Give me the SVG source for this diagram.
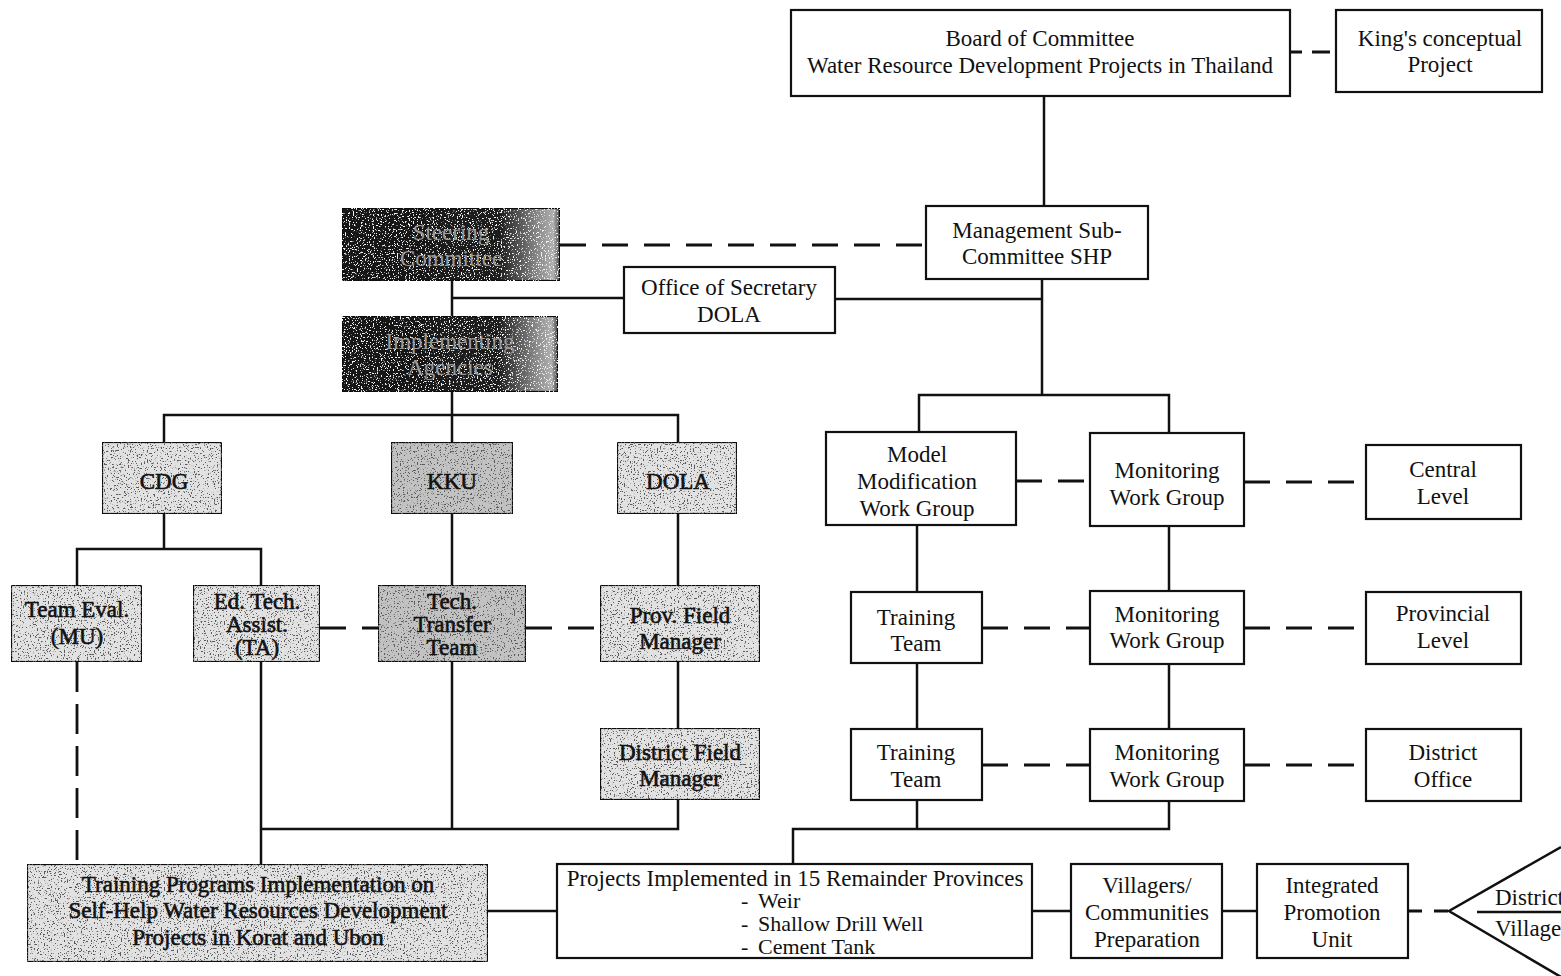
<svg xmlns="http://www.w3.org/2000/svg" width="1561" height="976" viewBox="0 0 1561 976">
  <defs>
    <style>
      text { font-family: "Liberation Serif", "Times New Roman", serif; font-size: 23px; fill: #111; text-anchor: middle; }
      .box { fill: #fff; stroke: #111; stroke-width: 2.2; }
      .grey { fill: #e2e2e2; stroke: #111; stroke-width: 2.2; }
      .greyd { fill: #c2c2c2; stroke: #111; stroke-width: 2.2; }
      .dark { fill: url(#darkfill); stroke: #111; stroke-width: 2.2; }
      .dtext { fill: #9a9a9a; }
      .heavy { stroke: #111; stroke-width: 0.6; }
      .ln { fill: none; stroke: #111; stroke-width: 2.5; }
      .dash { fill: none; stroke: #111; stroke-width: 2.8; stroke-dasharray: 26 16; }
      .left { text-anchor: start; }
      .item { font-size: 22px; }
    </style>
    <linearGradient id="darkfill" x1="0" y1="0" x2="1" y2="0">
      <stop offset="0" stop-color="#161616"/>
      <stop offset="0.72" stop-color="#1c1c1c"/>
      <stop offset="0.9" stop-color="#8a8a8a"/>
      <stop offset="0.97" stop-color="#b0b0b0"/>
      <stop offset="1" stop-color="#444"/>
    </linearGradient>
    <!-- dark speckle texture for the shaded boxes -->
    <filter id="grain" x="0" y="0" width="100%" height="100%">
      <feTurbulence type="fractalNoise" baseFrequency="0.7" numOctaves="2" seed="4" result="n"/>
      <feColorMatrix in="n" type="matrix" values="0 0 0 0 0.1  0 0 0 0 0.1  0 0 0 0 0.1  -14 0 0 0 5.6" result="specks"/>
      <feComposite in="specks" in2="SourceGraphic" operator="in" result="sp"/>
      <feMerge><feMergeNode in="SourceGraphic"/><feMergeNode in="sp"/></feMerge>
    </filter>
    <!-- light speckle texture for the black boxes -->
    <filter id="grainLight" x="0" y="0" width="100%" height="100%">
      <feTurbulence type="fractalNoise" baseFrequency="0.75" numOctaves="2" seed="9" result="n"/>
      <feColorMatrix in="n" type="matrix" values="0 0 0 0 0.9  0 0 0 0 0.9  0 0 0 0 0.9  -14 0 0 0 5.5" result="specks"/>
      <feComposite in="specks" in2="SourceGraphic" operator="in" result="sp"/>
      <feMerge><feMergeNode in="SourceGraphic"/><feMergeNode in="sp"/></feMerge>
    </filter>
  </defs>
  <rect width="1561" height="976" fill="#fff"/>

  <!-- connectors -->
  <g id="connectors">
    <path class="dash" d="M1290 52 H1336" style="stroke-dasharray: 12 10 18 10"/>
    <path class="ln" d="M1044 96 V206"/>
    <path class="dash" d="M560 245 H926"/>
    <path class="ln" d="M1042 279 V395 M835 299 H1042"/>
    <path class="ln" d="M919 432 V395 H1169 V433"/>
    <path class="ln" d="M452 281 V316 M452 298 H624"/>
    <path class="ln" d="M452 392 V415 M164 442 V415 H678 V442 M452 415 V442"/>
    <path class="ln" d="M164 514 V549 M77 585 V549 H261 V585"/>
    <path class="ln" d="M452 514 V585 M678 514 V585 M678 662 V728"/>
    <path class="dash" d="M320 628 H378 M526 628 H600"/>
    <path class="dash" d="M77 662 V864" style="stroke-dasharray: 30 12"/>
    <path class="ln" d="M261 662 V864 M452 662 V829 M678 800 V829 H261"/>
    <path class="ln" d="M488 911 H557 M1032 911 H1071 M1222 911 H1257"/>
    <path class="ln" d="M793 864 V829 H1169 V801 M917 800 V829"/>
    <path class="dash" d="M1016 481 H1090 M1244 482 H1366"/>
    <path class="ln" d="M917 525 V592 M1169 526 V591 M917 663 V729 M1169 664 V729"/>
    <path class="dash" d="M982 628 H1090 M1244 628 H1366"/>
    <path class="dash" d="M982 765 H1090 M1244 765 H1366"/>
    <path class="dash" d="M1408 911 H1449" style="stroke-dasharray: 14 12"/>
  </g>

  <!-- top level -->
  <g id="board">
    <rect class="box" x="791" y="10" width="499" height="86"/>
    <text x="1040" y="46">Board of Committee</text>
    <text x="1040" y="73">Water Resource Development Projects in Thailand</text>
  </g>
  <g id="kings-project">
    <rect class="box" x="1336" y="10" width="206" height="82"/>
    <text x="1440" y="46">King's conceptual</text>
    <text x="1440" y="72">Project</text>
  </g>
  <g id="management">
    <rect class="box" x="926" y="206" width="222" height="73"/>
    <text x="1037" y="238">Management Sub-</text>
    <text x="1037" y="264">Committee SHP</text>
  </g>
  <g id="office-secretary">
    <rect class="box" x="624" y="267" width="211" height="66"/>
    <text x="729" y="295">Office of Secretary</text>
    <text x="729" y="322">DOLA</text>
  </g>

  <!-- left branch -->
  <g id="steering">
    <rect class="dark" x="342" y="208" width="218" height="73" filter="url(#grainLight)"/>
    <text class="dtext" x="451" y="240">Steering</text>
    <text class="dtext" x="451" y="266">Committee</text>
  </g>
  <g id="implementing">
    <rect class="dark" x="342" y="316" width="216" height="76" filter="url(#grainLight)"/>
    <text class="dtext" x="450" y="349">Implementing</text>
    <text class="dtext" x="450" y="375">Agencies</text>
  </g>
  <g id="cdg">
    <rect class="grey" x="102" y="442" width="120" height="72" filter="url(#grain)"/>
    <text class="heavy" x="164" y="489">CDG</text>
  </g>
  <g id="kku">
    <rect class="greyd" x="391" y="442" width="122" height="72" filter="url(#grain)"/>
    <text class="heavy" x="452" y="489">KKU</text>
  </g>
  <g id="dola">
    <rect class="grey" x="617" y="442" width="120" height="72" filter="url(#grain)"/>
    <text class="heavy" x="678" y="489">DOLA</text>
  </g>
  <g id="team-eval">
    <rect class="grey" x="11" y="585" width="131" height="77" filter="url(#grain)"/>
    <text class="heavy" x="77" y="617">Team Eval.</text>
    <text class="heavy" x="77" y="644">(MU)</text>
  </g>
  <g id="ed-tech">
    <rect class="grey" x="193" y="585" width="127" height="77" filter="url(#grain)"/>
    <text class="heavy" x="257" y="609">Ed. Tech.</text>
    <text class="heavy" x="257" y="632">Assist.</text>
    <text class="heavy" x="257" y="655">(TA)</text>
  </g>
  <g id="tech-transfer">
    <rect class="greyd" x="378" y="585" width="148" height="77" filter="url(#grain)"/>
    <text class="heavy" x="452" y="609">Tech.</text>
    <text class="heavy" x="452" y="632">Transfer</text>
    <text class="heavy" x="452" y="655">Team</text>
  </g>
  <g id="prov-field">
    <rect class="grey" x="600" y="585" width="160" height="77" filter="url(#grain)"/>
    <text class="heavy" x="680" y="623">Prov. Field</text>
    <text class="heavy" x="680" y="649">Manager</text>
  </g>
  <g id="district-field">
    <rect class="grey" x="600" y="728" width="160" height="72" filter="url(#grain)"/>
    <text class="heavy" x="680" y="760">District Field</text>
    <text class="heavy" x="680" y="786">Manager</text>
  </g>
  <g id="training-programs">
    <rect class="grey" x="27" y="864" width="461" height="98" filter="url(#grain)"/>
    <text class="heavy" x="258" y="892">Training Programs Implementation on</text>
    <text class="heavy" x="258" y="918">Self-Help Water Resources Development</text>
    <text class="heavy" x="258" y="945">Projects in Korat and Ubon</text>
  </g>

  <!-- right branch -->
  <g id="model-modification">
    <rect class="box" x="826" y="432" width="190" height="93"/>
    <text x="917" y="462">Model</text>
    <text x="917" y="489">Modification</text>
    <text x="917" y="516">Work Group</text>
  </g>
  <g id="monitoring-central">
    <rect class="box" x="1090" y="433" width="154" height="93"/>
    <text x="1167" y="478">Monitoring</text>
    <text x="1167" y="505">Work Group</text>
  </g>
  <g id="central-level">
    <rect class="box" x="1366" y="445" width="155" height="74"/>
    <text x="1443" y="477">Central</text>
    <text x="1443" y="504">Level</text>
  </g>
  <g id="training-team-1">
    <rect class="box" x="851" y="592" width="131" height="71"/>
    <text x="916" y="625">Training</text>
    <text x="916" y="651">Team</text>
  </g>
  <g id="monitoring-provincial">
    <rect class="box" x="1090" y="591" width="154" height="73"/>
    <text x="1167" y="622">Monitoring</text>
    <text x="1167" y="648">Work Group</text>
  </g>
  <g id="provincial-level">
    <rect class="box" x="1366" y="592" width="155" height="72"/>
    <text x="1443" y="621">Provincial</text>
    <text x="1443" y="648">Level</text>
  </g>
  <g id="training-team-2">
    <rect class="box" x="851" y="729" width="131" height="71"/>
    <text x="916" y="760">Training</text>
    <text x="916" y="787">Team</text>
  </g>
  <g id="monitoring-district">
    <rect class="box" x="1090" y="729" width="154" height="72"/>
    <text x="1167" y="760">Monitoring</text>
    <text x="1167" y="787">Work Group</text>
  </g>
  <g id="district-office">
    <rect class="box" x="1366" y="729" width="155" height="72"/>
    <text x="1443" y="760">District</text>
    <text x="1443" y="787">Office</text>
  </g>

  <!-- bottom row -->
  <g id="projects">
    <rect class="box" x="557" y="864" width="475" height="94"/>
    <text x="795" y="886">Projects Implemented in 15 Remainder Provinces</text>
    <text class="left item"><tspan x="741" y="908">-</tspan><tspan x="758" y="908">Weir</tspan><tspan x="741" y="931">-</tspan><tspan x="758" y="931">Shallow Drill Well</tspan><tspan x="741" y="954">-</tspan><tspan x="758" y="954">Cement Tank</tspan></text>
  </g>
  <g id="villagers">
    <rect class="box" x="1071" y="864" width="151" height="94"/>
    <text x="1147" y="893">Villagers/</text>
    <text x="1147" y="920">Communities</text>
    <text x="1147" y="947">Preparation</text>
  </g>
  <g id="integrated-promotion">
    <rect class="box" x="1257" y="864" width="151" height="94"/>
    <text x="1332" y="893">Integrated</text>
    <text x="1332" y="920">Promotion</text>
    <text x="1332" y="947">Unit</text>
  </g>
  <g id="district-village">
    <path class="ln" d="M1561 847 L1449 911 L1561 977 M1477 912 H1561"/>
    <text class="left" x="1495" y="905">District</text>
    <text class="left" x="1495" y="936">Village</text>
  </g>
</svg>
